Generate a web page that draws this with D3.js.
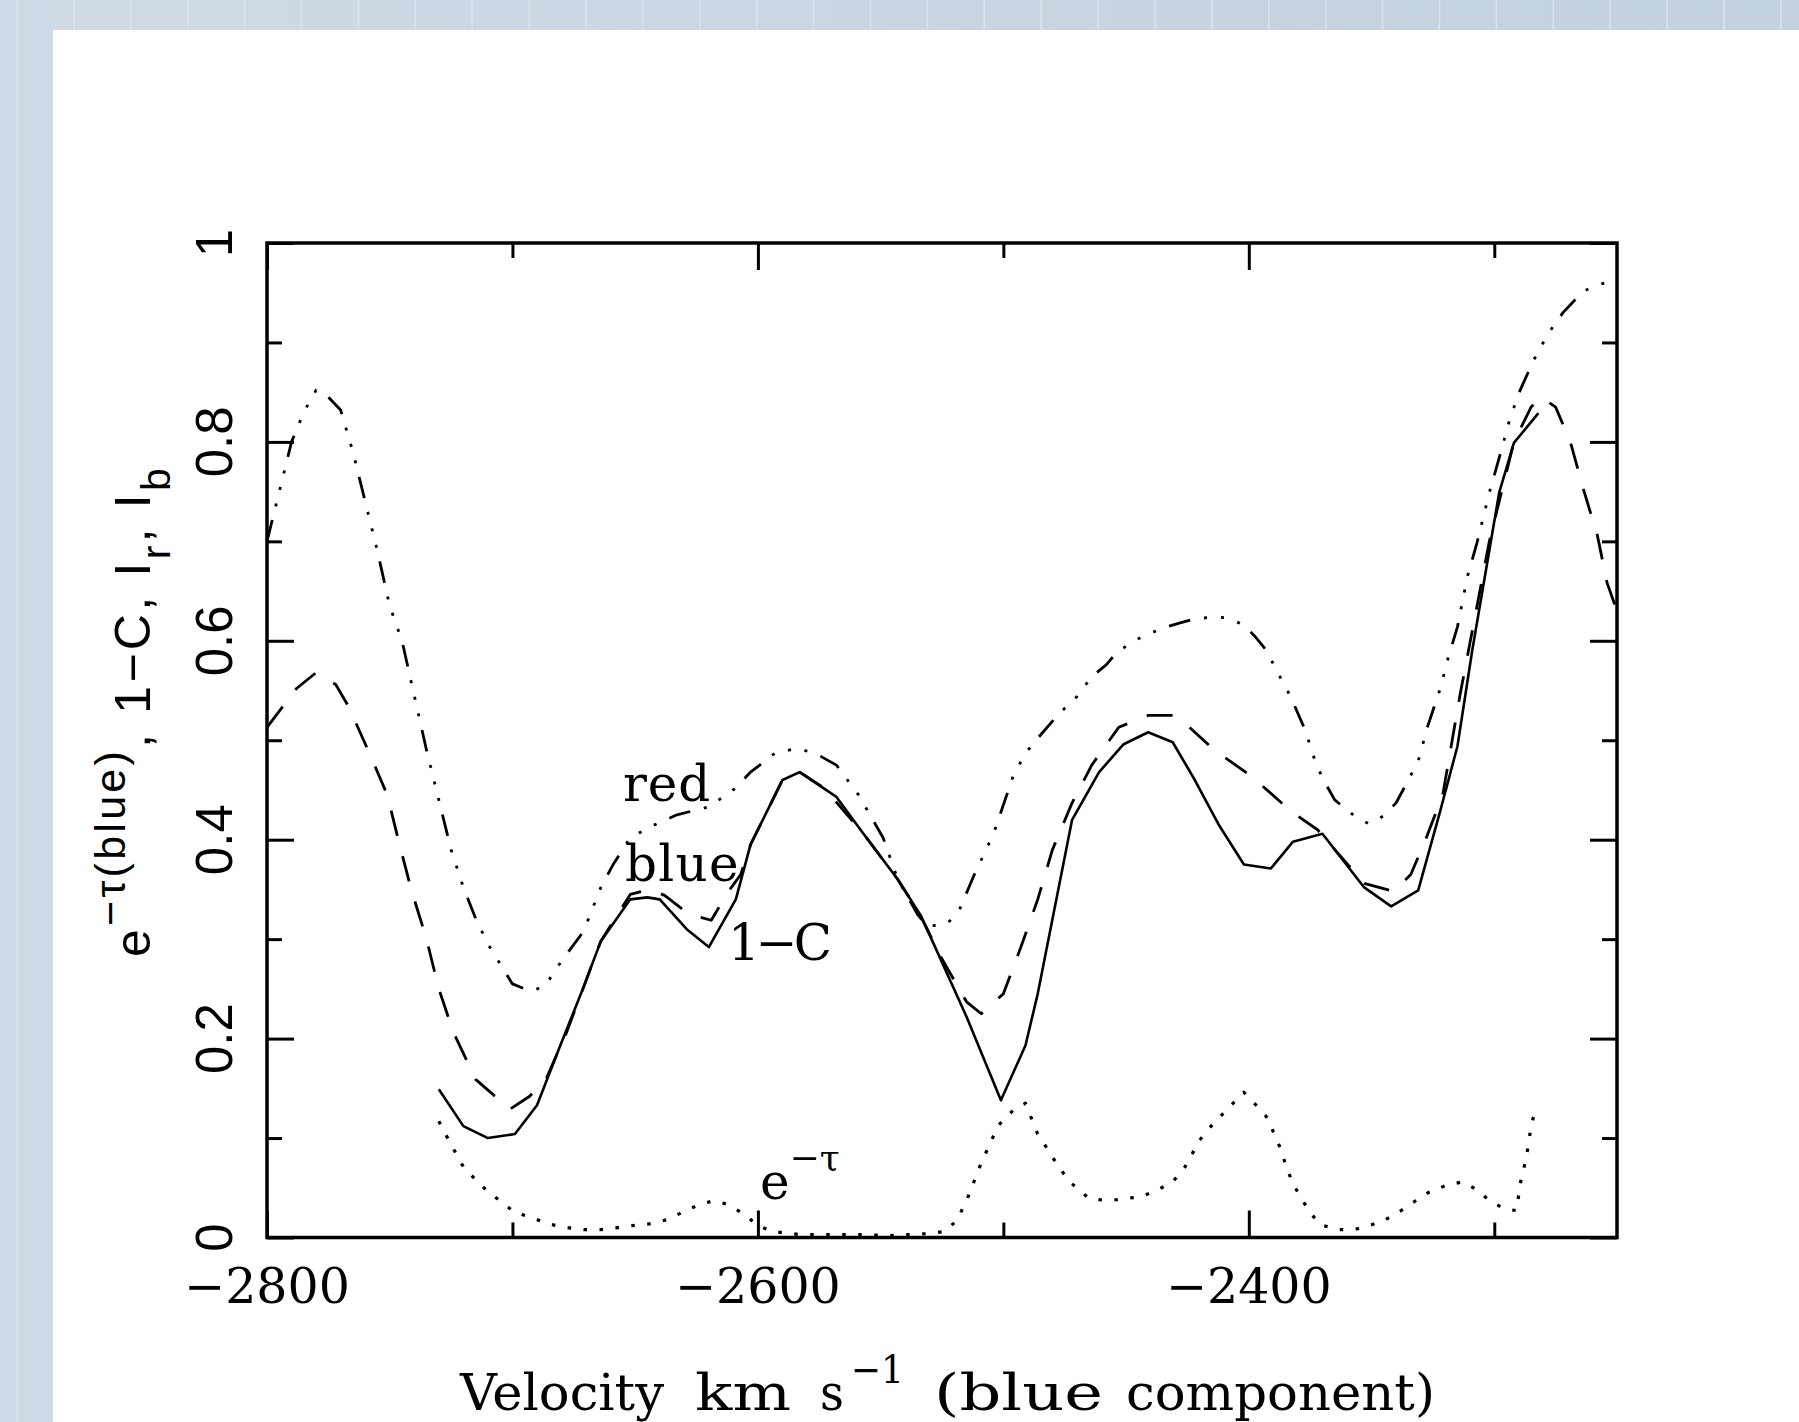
<!DOCTYPE html>
<html lang="en">
<head>
<meta charset="UTF-8" />
<title>e-tau, 1-C, Ir, Ib vs velocity</title>
<script src="https://cdn.jsdelivr.net/npm/d3@7"></script>
<style>
  html, body { margin:0; padding:0; }
  body { width:1799px; height:1422px; overflow:hidden; background:#cdd9e4; }
  svg { display:block; }
  .serif { font-family: "DejaVu Serif", serif; fill:#000; }
  .sans  { font-family: "Liberation Sans", Arial, sans-serif; fill:#000; }
</style>
</head>
<body>
<div id="chart"></div>
<script>
const W = 1799, H = 1422;

// I_r  (dash-dot-dot-dot, "red")
const redVel = [-2800,-2795,-2790,-2785,-2780,-2775,-2770,-2765,-2760,-2755,-2750,-2745,-2740,-2735,-2730,-2725,-2720,-2715,-2710,-2705,
  -2700,-2693,-2687,-2680,-2671,-2664,-2659,-2652,-2643,-2633,-2620,-2609,-2603,-2593,-2584,-2576,-2568,-2559,-2549,-2543,
  -2535,-2531,-2523,-2518,-2512,-2504,-2496,-2491,-2486,-2478,-2470,-2464,-2458,-2454,-2446,-2435,-2428,-2422,-2414,-2409,
  -2402,-2397,-2393,-2388,-2383,-2377,-2373,-2370,-2365,-2356,-2351,-2345,-2340,-2335,-2331,-2327,-2322,-2319,-2315,-2311,
  -2307,-2302,-2298,-2294,-2290,-2284,-2278,-2272,-2264,-2258,-2250];
const redI = [0.700,0.750,0.800,0.830,0.852,0.845,0.832,0.790,0.740,0.690,0.635,0.600,0.545,0.490,0.440,0.390,0.352,0.321,0.295,0.275,
  0.255,0.248,0.252,0.278,0.308,0.352,0.375,0.402,0.414,0.425,0.433,0.452,0.468,0.487,0.492,0.486,0.475,0.445,0.402,0.360,
  0.325,0.313,0.315,0.329,0.364,0.406,0.464,0.487,0.502,0.525,0.544,0.564,0.576,0.588,0.601,0.613,0.618,0.622,0.624,0.623,
  0.616,0.603,0.591,0.567,0.544,0.510,0.479,0.462,0.440,0.422,0.416,0.424,0.437,0.460,0.479,0.515,0.552,0.581,0.614,0.664,
  0.699,0.749,0.784,0.820,0.849,0.882,0.909,0.930,0.951,0.958,0.963];

// I_b  (dashed, "blue")
const blueVel = [-2800,-2788,-2780,-2772,-2767,-2759,-2751,-2746,-2741,-2735,-2730,-2724,-2715,-2701,-2693,-2686,-2678,-2671,-2664,-2652,
  -2644,-2638,-2628,-2619,-2612,-2607,-2603,-2590,-2583,-2573,-2557,-2543,-2534,-2525,-2515,-2509,-2500,-2493,-2486,-2480,
  -2472,-2464,-2453,-2441,-2431,-2426,-2414,-2399,-2383,-2372,-2353,-2341,-2334,-2328,-2321,-2314,-2302,-2292,-2285,-2281,
  -2275,-2269,-2264,-2258,-2254,-2250];
const blueI = [0.513,0.552,0.568,0.556,0.535,0.491,0.445,0.395,0.348,0.300,0.250,0.206,0.159,0.129,0.142,0.161,0.206,0.252,0.298,0.345,
  0.350,0.344,0.325,0.319,0.348,0.365,0.395,0.460,0.468,0.452,0.406,0.360,0.325,0.280,0.237,0.225,0.245,0.291,0.340,0.390,
  0.437,0.475,0.513,0.525,0.525,0.517,0.490,0.464,0.429,0.410,0.356,0.348,0.365,0.400,0.445,0.545,0.700,0.800,0.835,0.845,
  0.835,0.800,0.755,0.706,0.658,0.630];

// 1 - C  (solid)
const covVel = [-2730,-2720,-2710,-2699,-2690,-2681,-2671,-2664,-2652,-2645,-2640,-2629,-2620,-2609,-2603,-2590,-2583,-2568,-2557,-2543,
  -2534,-2530,-2515,-2501,-2491,-2486,-2472,-2461,-2451,-2441,-2431,-2422,-2412,-2402,-2391,-2382,-2370,-2353,-2342,-2331,
  -2322,-2315,-2309,-2302,-2298,-2292,-2282];
const oneMinusC = [0.149,0.112,0.100,0.104,0.133,0.190,0.252,0.298,0.340,0.342,0.340,0.310,0.292,0.340,0.395,0.460,0.468,0.443,0.406,0.360,
  0.325,0.304,0.222,0.138,0.193,0.245,0.420,0.468,0.496,0.508,0.498,0.460,0.414,0.375,0.371,0.398,0.406,0.352,0.333,0.349,
  0.429,0.494,0.590,0.691,0.749,0.799,0.829];

// e^-tau(blue)  (dotted)
const tauVel = [-2730,-2726,-2720,-2715,-2710,-2704,-2699,-2692,-2686,-2678,-2671,-2664,-2657,-2651,-2643,-2637,-2631,-2624,-2618,-2612,
  -2606,-2600,-2594,-2583,-2560,-2546,-2530,-2524,-2519,-2515,-2509,-2502,-2496,-2491,-2486,-2482,-2478,-2473,-2465,-2457,
  -2451,-2444,-2437,-2431,-2426,-2420,-2415,-2408,-2402,-2397,-2392,-2390,-2387,-2385,-2382,-2379,-2375,-2371,-2364,-2357,
  -2351,-2345,-2338,-2332,-2327,-2320,-2313,-2307,-2302,-2296,-2291,-2289,-2287,-2285,-2283];
const expTau = [0.117,0.098,0.071,0.058,0.046,0.035,0.025,0.020,0.014,0.010,0.008,0.008,0.010,0.012,0.014,0.018,0.025,0.033,0.037,0.033,
  0.024,0.012,0.006,0.003,0.003,0.002,0.004,0.006,0.017,0.037,0.075,0.113,0.128,0.135,0.104,0.089,0.073,0.056,0.039,0.037,
  0.039,0.041,0.048,0.056,0.071,0.098,0.113,0.131,0.146,0.133,0.119,0.106,0.089,0.073,0.054,0.041,0.025,0.013,0.008,0.008,
  0.012,0.017,0.027,0.037,0.045,0.052,0.056,0.048,0.037,0.029,0.027,0.060,0.079,0.112,0.131];

// axes
const xDomain = [-2800, -2250];
const xMajor = [-2800, -2600, -2400];
const xMinor = [-2700, -2500, -2300];
const xTickLabels = ["\u22122800", "\u22122600", "\u22122400"];
const yMajor = [0, 0.2, 0.4, 0.6, 0.8, 1];
const yMinor = [0.1, 0.3, 0.5, 0.7, 0.9];
const yTickLabels = ["0", "0.2", "0.4", "0.6", "0.8", "1"];

const plot = { left: 267, right: 1617, top: 243, bottom: 1237.5 };

const x = d3.scaleLinear().domain(xDomain).range([plot.left, plot.right]);
const y = d3.scaleLinear().domain([0, 1]).range([plot.bottom, plot.top]);

const svg = d3.select('#chart').append('svg')
  .attr('width', W).attr('height', H)
  .attr('viewBox', `0 0 ${W} ${H}`);

// slide background
const grad = svg.append('defs').append('linearGradient').attr('id', 'bg')
  .attr('x1', 0).attr('x2', 1).attr('y1', 0).attr('y2', 0);
grad.append('stop').attr('offset', 0).attr('stop-color', '#cfdae4');
grad.append('stop').attr('offset', 1).attr('stop-color', '#c3d1de');
svg.append('rect').attr('width', W).attr('height', H).attr('fill', 'url(#bg)');
svg.append('rect').attr('width', 53).attr('height', H).attr('fill', '#cdd9e4');
svg.selectAll('line.stripe').data(d3.range(17, W, 56.9)).join('line')
  .attr('class', 'stripe')
  .attr('x1', d => d).attr('x2', d => d)
  .attr('y1', 0).attr('y2', (d, i) => i === 0 ? H : 30)
  .attr('stroke', '#dae3ec').attr('stroke-width', 1.5);
svg.append('rect').attr('x', 53).attr('y', 30).attr('width', W - 53).attr('height', H - 30).attr('fill', '#fff');

// curves
const line = d3.line().x(d => x(d[0])).y(d => y(d[1]));
const curves = [
  { v: redVel,  y: redI,      dash: '22 14 3 14 3 14 3 14', w: 2.8 },
  { v: blueVel, y: blueI,     dash: '26 21',                w: 2.8 },
  { v: covVel,  y: oneMinusC, dash: null,                   w: 2.6 },
  { v: tauVel,  y: expTau,    dash: '3.5 12.5',             w: 3.2 }
];
curves.forEach(c => {
  svg.append('path')
    .datum(d3.zip(c.v, c.y))
    .attr('d', line)
    .attr('fill', 'none')
    .attr('stroke', '#000')
    .attr('stroke-width', c.w)
    .attr('stroke-dasharray', c.dash)
    .attr('stroke-linejoin', 'round');
});

// frame and ticks (all inward)
svg.append('rect')
  .attr('x', plot.left).attr('y', plot.top)
  .attr('width', plot.right - plot.left).attr('height', plot.bottom - plot.top)
  .attr('fill', 'none').attr('stroke', '#000').attr('stroke-width', 3.5);

function ticks(axisFn, scale, vals, size, transform) {
  svg.append('g').attr('transform', transform)
    .call(axisFn(scale).tickValues(vals).tickSizeInner(size).tickSizeOuter(0).tickFormat(''))
    .call(g => g.select('.domain').remove())
    .selectAll('line').attr('stroke', '#000').attr('stroke-width', 3);
}
[[xMajor, 27], [xMinor, 15]].forEach(([v, s]) => {
  ticks(d3.axisBottom, x, v, -s, `translate(0,${plot.bottom})`);
  ticks(d3.axisTop, x, v, -s, `translate(0,${plot.top})`);
});
[[yMajor, 27], [yMinor, 15]].forEach(([v, s]) => {
  ticks(d3.axisLeft, y, v, -s, `translate(${plot.left},0)`);
  ticks(d3.axisRight, y, v, -s, `translate(${plot.right},0)`);
});

// stretch letter spacing so a text run spans the width seen in the reference
function fit(t, target) {
  const w = t.node().getBBox().width;
  const n = t.node().textContent.length;
  t.attr('letter-spacing', ((target - w) / n).toFixed(2));
  return t;
}

// tick labels
svg.append('g').selectAll('text').data(xMajor).join('text')
  .attr('class', 'serif')
  .attr('x', d => x(d)).attr('y', 1303)
  .attr('text-anchor', 'middle')
  .style('font-size', '49px')
  .text((d, i) => xTickLabels[i]);

svg.append('g').selectAll('text').data(yMajor).join('text')
  .attr('class', 'sans')
  .attr('transform', d => `translate(232,${y(d)}) rotate(-90)`)
  .attr('text-anchor', 'middle')
  .style('font-size', '51px')
  .text((d, i) => yTickLabels[i]);

// x title, word by word: [text, left, width, baseline, size]; the reference face is wider, so stretch glyphs
const titleWords = [
  ['Velocity', 460, 206, 1410, 50],
  ['km', 695, 96, 1410, 50],
  ['s', 820, 24, 1410, 50],
  ['\u22121', 851, 53, 1383, 39],
  ['(blue', 934, 169, 1410, 50],
  ['component)', 1126, 309, 1410, 50]
];
titleWords.forEach(([t, x0, w, yb, fs]) => {
  const el = svg.append('text').attr('class', 'serif')
    .attr('transform', `translate(${x0},${yb})`)
    .style('font-size', fs + 'px')
    .text(t);
  const bw = el.node().getBBox().width;
  el.attr('transform', `translate(${x0},${yb}) scale(${(w / bw).toFixed(3)},1)`);
});

// y title
const yt = svg.append('text').attr('class', 'sans')
  .attr('transform', 'translate(150,711) rotate(-90)')
  .attr('text-anchor', 'middle')
  .style('font-size', '50px');
yt.append('tspan').text('e');
yt.append('tspan').attr('dy', -25).style('font-size', '43px').text('\u2212\u03c4(blue)');
yt.append('tspan').attr('dy', 25).text(', 1\u2212C, I');
yt.append('tspan').attr('dy', 20).style('font-size', '41px').text('r');
yt.append('tspan').attr('dy', -20).text(', I');
yt.append('tspan').attr('dy', 20).style('font-size', '41px').text('b');
fit(yt, 492);

// curve labels
const labels = [
  { t: 'red',          x: 623, y: 801, w: 88 },
  { t: 'blue',         x: 625, y: 881, w: 115 },
  { t: '1\u2212C',     x: 728, y: 960, w: 100 }
];
labels.forEach(l => {
  const t = svg.append('text').attr('class', 'serif')
    .attr('x', l.x).attr('y', l.y)
    .style('font-size', '50px')
    .text(l.t);
  fit(t, l.w);
});
const et = svg.append('text').attr('class', 'serif')
  .attr('x', 760).attr('y', 1199)
  .style('font-size', '50px');
et.append('tspan').text('e');
et.append('tspan').attr('dy', -29).style('font-size', '36px').text('\u2212\u03c4');
</script>
</body>
</html>
